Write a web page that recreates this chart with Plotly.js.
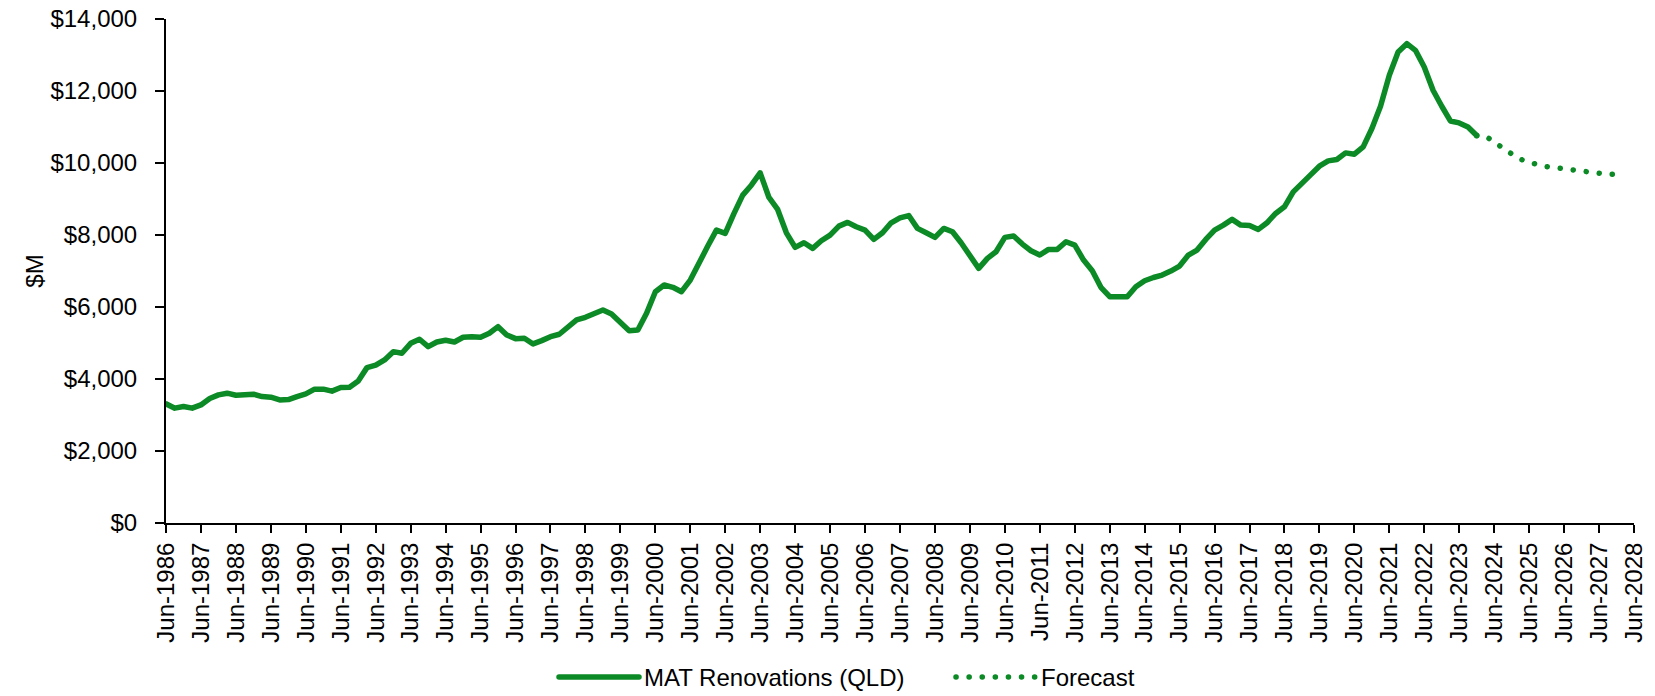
<!DOCTYPE html>
<html>
<head>
<meta charset="utf-8">
<script src="https://cdn.plot.ly/plotly-3.0.1.min.js"></script>
<style>
html, body { margin: 0; padding: 0; background: #fff; }
#chart { width: 1655px; height: 696px; }
.scatterlayer .js-line, .legendlines path { stroke-linecap: round; stroke-linejoin: round; }
</style>
</head>
<body>
<div id="chart"></div>
<script>
// Quarterly series: first quarter Jun-1986
var startYear = 1986;
var startMonth = 6;

// MAT Renovations (QLD), $M, actual (Jun-1986 .. Dec-2023)
var actualValues = [
  3310, 3190, 3235, 3190, 3280, 3457, 3559, 3606,
  3550, 3559, 3578, 3512, 3495, 3420, 3429, 3512,
  3587, 3717, 3717, 3662, 3762, 3772, 3947, 4316,
  4383, 4530, 4760, 4716, 4990, 5104, 4899, 5029,
  5076, 5029, 5160, 5176, 5160, 5271, 5454, 5224,
  5121, 5132, 4974, 5066, 5176, 5243, 5437, 5640,
  5714, 5825, 5917, 5806, 5593, 5343, 5362, 5825,
  6425, 6611, 6547, 6425, 6749, 7257, 7692, 8136,
  8044, 8599, 9107, 9384, 9726, 9043, 8710, 8061,
  7656, 7784, 7629, 7839, 7998, 8247, 8350, 8228,
  8136, 7878, 8061, 8339, 8475, 8540, 8183, 8061,
  7934, 8183, 8090, 7784, 7396, 7074, 7351, 7535,
  7934, 7970, 7748, 7563, 7443, 7600, 7600, 7812,
  7720, 7304, 7007, 6547, 6286, 6269, 6286, 6563,
  6730, 6820, 6888, 6999, 7138, 7443, 7582, 7878,
  8136, 8275, 8433, 8275, 8266, 8155, 8339, 8599,
  8783, 9199, 9412, 9670, 9912, 10059, 10097, 10281,
  10245, 10447, 10957, 11576, 12436, 13082, 13315, 13130,
  12666, 12020, 11576, 11168, 11113, 11002, 10763
];

// Forecast, $M (Dec-2023 .. Mar-2028)
var forecastValues = [
  10763, 10750, 10580, 10400, 10250, 10105, 10010, 9950,
  9900, 9865, 9830, 9790, 9755, 9725, 9690, 9685, 9690, 9720
];

var seriesNames = ['MAT Renovations (QLD)', 'Forecast'];
var yTickValues = [0, 2000, 4000, 6000, 8000, 10000, 12000, 14000];
var yTickLabels = ['$0', '$2,000', '$4,000', '$6,000', '$8,000', '$10,000', '$12,000', '$14,000'];
var xRange = ['1986-06-01', '2028-06-01'];

function quarterDate(i) {
  var m = startMonth - 1 + 3 * i;
  var y = startYear + Math.floor(m / 12);
  var mm = (m % 12) + 1;
  return y + '-' + (mm < 10 ? '0' + mm : '' + mm) + '-01';
}
var actualDates = actualValues.map(function (v, i) { return quarterDate(i); });
var forecastOffset = actualValues.length - 1;
var forecastDates = forecastValues.map(function (v, i) { return quarterDate(forecastOffset + i); });

var green = '#0c8a26';
var font = 'Liberation Sans, Arial, sans-serif';

var traces = [
  {
    x: actualDates, y: actualValues, type: 'scatter', mode: 'lines',
    name: seriesNames[0],
    line: { color: green, width: 5.5 }
  },
  {
    x: forecastDates, y: forecastValues, type: 'scatter', mode: 'lines',
    name: seriesNames[1],
    line: { color: green, width: 5.5, dash: '0.1px,13px' }
  }
];

var layout = {
  width: 1655, height: 696,
  paper_bgcolor: '#fff', plot_bgcolor: '#fff',
  margin: { l: 166, r: 21, t: 19, b: 173, autoexpand: false },
  font: { family: font, size: 24, color: '#000' },
  showlegend: true,
  legend: {
    orientation: 'h', x: 0.2643, xanchor: 'left', y: -0.3065, yanchor: 'middle',
    font: { family: font, size: 24, color: '#000' },
    itemwidth: 80, entrywidth: 302, entrywidthmode: 'pixels',
    bgcolor: 'rgba(0,0,0,0)'
  },
  xaxis: {
    type: 'date', range: xRange,
    tick0: '1986-06-01', dtick: 'M12', tickformat: '%b-%Y',
    tickangle: -90,
    showgrid: false, zeroline: false,
    showline: true, linecolor: '#000', linewidth: 2,
    ticks: 'outside', ticklen: 8, tickwidth: 2, tickcolor: '#000',
    tickfont: { family: font, size: 24, color: '#000' },
    fixedrange: true
  },
  yaxis: {
    range: [0, 14000],
    tickmode: 'array', tickvals: yTickValues, ticktext: yTickLabels,
    ticklabelstandoff: 13,
    showgrid: false, zeroline: false,
    showline: true, linecolor: '#000', linewidth: 2,
    ticks: 'outside', ticklen: 9, tickwidth: 2, tickcolor: '#000',
    tickfont: { family: font, size: 24, color: '#000' },
    title: { text: '$M', font: { family: font, size: 24, color: '#000' }, standoff: 0 },
    fixedrange: true
  }
};

Plotly.newPlot('chart', traces, layout, { displayModeBar: false, staticPlot: true });
</script>
</body>
</html>
